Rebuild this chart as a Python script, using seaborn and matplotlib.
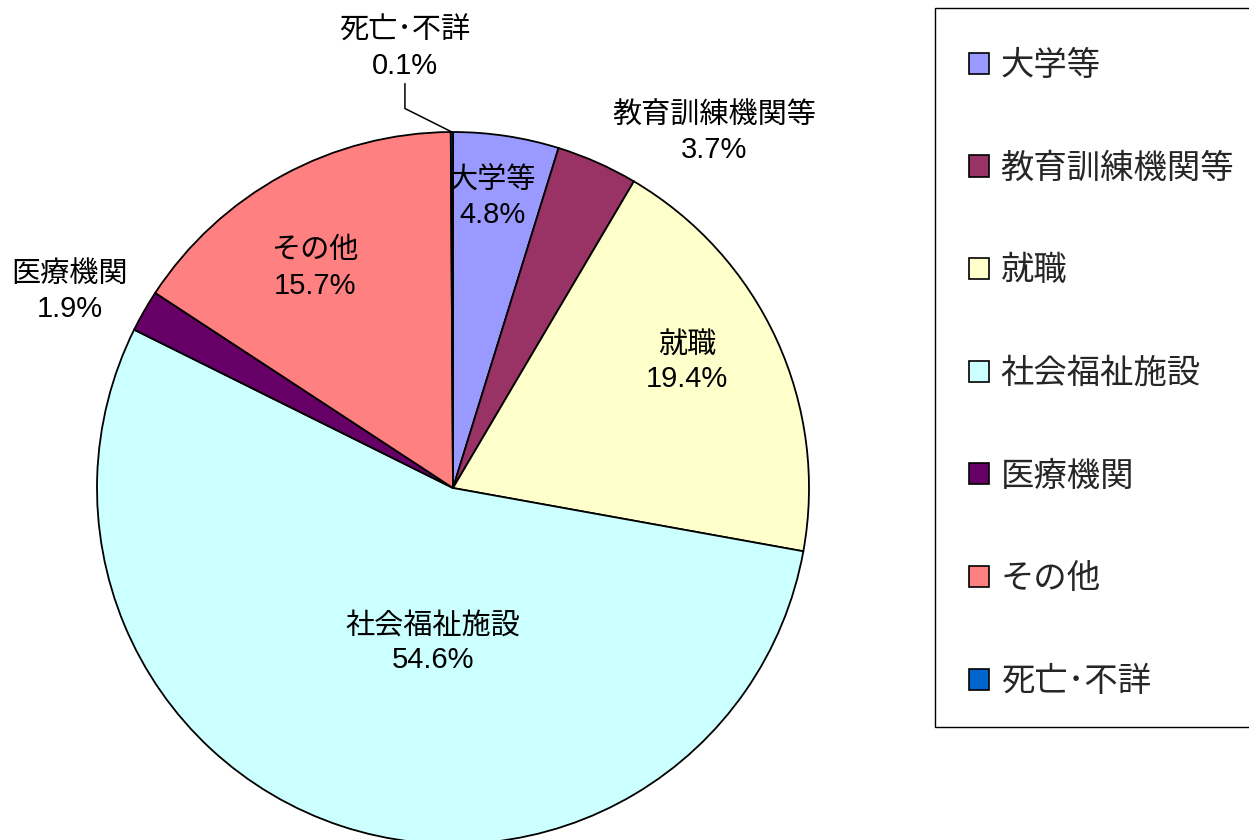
import numpy as np
import matplotlib.pyplot as plt
import seaborn as sns
from matplotlib.patches import Patch, Rectangle

# 進路別の割合（%）
categories = ["大学等", "教育訓練機関等", "就職", "社会福祉施設", "医療機関", "その他", "死亡･不詳"]
shares = [4.8, 3.7, 19.4, 54.6, 1.9, 15.7, 0.1]
slice_colors = ["#9999FF", "#993366", "#FFFFCC", "#CCFFFF", "#660066", "#FF8080", "#0066CC"]

# label anchor points (data units of the pie axes)
label_xy = [(0.11, 0.815), (0.733, 1.0), (0.657, 0.354), (-0.056, -0.435),
            (-1.076, 0.553), (-0.388, 0.618), (-0.135, 1.236)]

sns.set_theme(style="white")
plt.rcParams['font.family'] = ['Liberation Sans', 'Noto Sans CJK JP', 'DejaVu Sans']
palette = sns.color_palette(slice_colors)

fig = plt.figure(figsize=(12.49, 8.4), dpi=100)
ax = fig.add_axes([97 / 1249, -4 / 840, 712 / 1249, 712 / 840])

wedges, _ = ax.pie(shares, colors=palette, startangle=90, counterclock=False,
                   radius=1.0, wedgeprops=dict(edgecolor="black", linewidth=1.3))
ax.set_xlim(-1, 1)
ax.set_ylim(-1, 1)
ax.set_aspect("equal")
ax.axis("off")

for name, val, (x, y) in zip(categories, shares, label_xy):
    ax.text(x, y, f"{name}\n{val:.1f}%", ha="center", va="center",
            fontsize=21, linespacing=1.32, color="black")

# leader line for the tiny slice
w = wedges[-1]
mid = np.deg2rad((w.theta1 + w.theta2) / 2)
lx, ly = label_xy[-1]
ax.plot([lx, lx, np.cos(mid)], [ly - 0.1, ly - 0.17, np.sin(mid)],
        color="black", lw=1.1, clip_on=False)

# legend box
box = Rectangle((935 / 1249, 113 / 840), 330 / 1249, 719 / 840,
                transform=fig.transFigure, facecolor="white",
                edgecolor="black", lw=1.0, zorder=0)
fig.add_artist(box)

handles = [Patch(facecolor=c, edgecolor="black", lw=1.2) for c in slice_colors]
fig.legend(handles, categories, loc="upper left",
           bbox_to_anchor=(969 / 1249, (840 - 48) / 840), frameon=False,
           prop=dict(family=['Noto Sans CJK JP', 'DejaVu Sans'], size=24),
           handlelength=0.6, handleheight=0.6, handletextpad=0.35,
           labelspacing=2.03, borderpad=0, borderaxespad=0)

fig.savefig("out.png", dpi=100)
